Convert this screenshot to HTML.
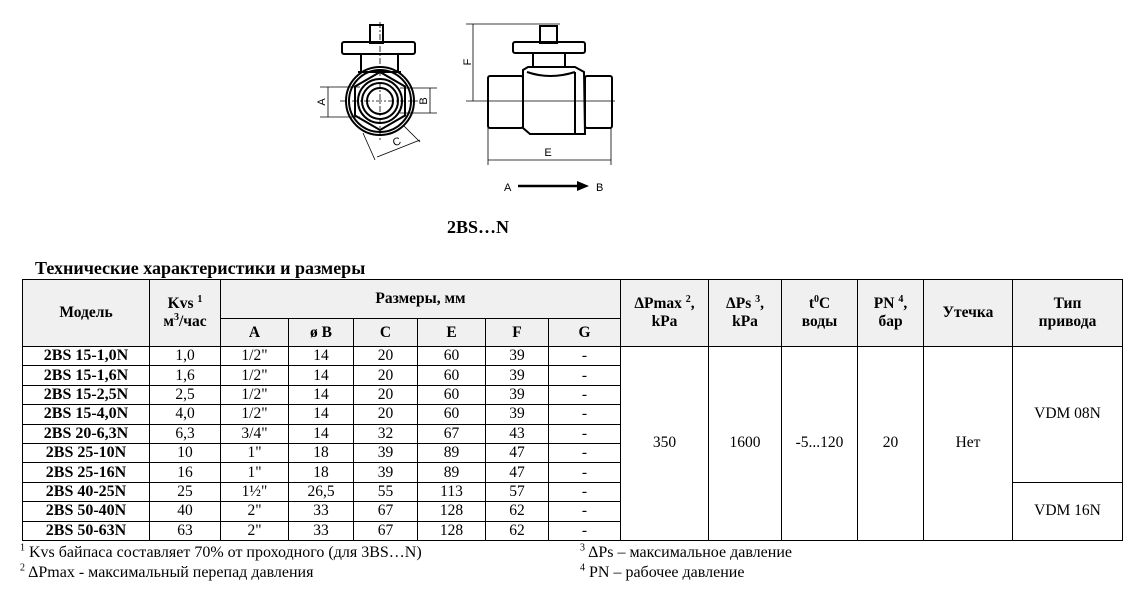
<!DOCTYPE html>
<html><head><meta charset="utf-8"><style>
html,body{margin:0;padding:0;background:#fff;width:1127px;height:590px;overflow:hidden;position:relative;font-family:"Liberation Serif",serif;color:#000}
.abs{position:absolute;white-space:nowrap}
table{position:absolute;left:22px;top:279px;border-collapse:collapse;table-layout:fixed;font-size:15.5px}
td{border:1.3px solid #000;text-align:center;padding:0;line-height:16px;overflow:hidden;white-space:nowrap}
th{border:1.3px solid #000;background:#f0f0f0;font-weight:bold;font-size:15.5px;padding:0;line-height:18px}
tr.r td{height:18.4px}
td.m{font-weight:bold;font-size:16px}
sup{font-size:10px;line-height:0}
</style></head><body>
<svg class="abs" style="left:0;top:0" width="1127" height="250" viewBox="0 0 1127 250">
<g fill="none" stroke="#000" stroke-width="2">
<rect x="370" y="25" width="13" height="18"/>
<rect x="342" y="42" width="73" height="12" rx="2"/>
<path d="M361 54 L361 72 M398 54 L398 72 M358 72 L401 72"/>
<circle cx="380" cy="101" r="34"/>
<circle cx="380" cy="101" r="31"/>
<polygon points="380,72 405,86.5 405,115.5 380,130 355,115.5 355,86.5"/>
<circle cx="380" cy="101" r="22"/>
<circle cx="380" cy="101" r="18"/>
<circle cx="380" cy="101" r="13"/>
</g>
<g stroke="#000" stroke-width="0.8" fill="none">
<path d="M320 87 L360 87 M320 117 L360 117 M328 87 L328 117"/>
<path d="M400 88 L437 88 M400 113 L437 113 M430 88 L430 113"/>
<path d="M363 133 L375 160 M404 126 L420 142 M377 157 L420 140"/>
<path d="M340 101 L420 101 M380 22 L380 140" stroke-dasharray="6,2,2,2"/>
</g>
<g fill="#000" font-family="Liberation Sans,sans-serif" font-size="11">
<text transform="translate(325,102) rotate(-90)" text-anchor="middle">A</text>
<text transform="translate(427,101) rotate(-90)" text-anchor="middle">B</text>
<text transform="translate(398,145) rotate(-22)" text-anchor="middle">C</text>
</g>
<g fill="none" stroke="#000" stroke-width="2">
<rect x="540" y="26" width="17" height="17"/>
<rect x="513" y="42" width="72" height="11" rx="2"/>
<path d="M533 53 L533 67 M565 53 L565 67"/>
<rect x="488" y="76" width="35" height="52" rx="2"/>
<rect x="585" y="76" width="27" height="52" rx="2"/>
<path d="M523 70 L528 67 L575 67 L584 72 L585 134 L530 134 L523 128 Z"/>
<path d="M527 72 Q550 80 575 72 M575 72 L575 134"/>
</g>
<g stroke="#000" stroke-width="0.8" fill="none">
<path d="M466 24 L560 24 M466 101 L615 101 M473 24 L473 101"/>
<path d="M488 128 L488 165 M611 128 L611 165 M488 160 L611 160"/>
</g>
<g fill="#000" font-family="Liberation Sans,sans-serif" font-size="11">
<text transform="translate(471,62) rotate(-90)" text-anchor="middle">F</text>
<text x="548" y="156" text-anchor="middle">E</text>
<text x="504" y="191">A</text>
<text x="596" y="191">B</text>
</g>
<path d="M518 186 L579 186" stroke="#000" stroke-width="2.5"/>
<polygon points="577,181 589,186 577,191" fill="#000"/>
<text x="478" y="233" text-anchor="middle" font-family="Liberation Serif,serif" font-weight="bold" font-size="18">2BS…N</text>
</svg>
<div class="abs" style="left:35px;top:258px;font-weight:bold;font-size:18px;line-height:20px">Технические характеристики и размеры</div>
<table>
<colgroup><col style="width:127px"><col style="width:71px"><col style="width:68px"><col style="width:65px"><col style="width:64px"><col style="width:68px"><col style="width:63px"><col style="width:72px"><col style="width:88px"><col style="width:73px"><col style="width:76px"><col style="width:66px"><col style="width:89px"><col style="width:110px"></colgroup>
<tr style="height:39px"><th rowspan="2">Модель</th><th rowspan="2">Kvs <sup>1</sup><br>м<sup>3</sup>/час</th><th colspan="6">Размеры, мм</th><th rowspan="2">ΔPmax <sup>2</sup>,<br>kPa</th><th rowspan="2">ΔPs <sup>3</sup>,<br>kPa</th><th rowspan="2">t<sup>0</sup>C<br>воды</th><th rowspan="2">PN <sup>4</sup>,<br>бар</th><th rowspan="2">Утечка</th><th rowspan="2">Тип<br>привода</th></tr>
<tr style="height:28px"><th>A</th><th>ø B</th><th>C</th><th>E</th><th>F</th><th>G</th></tr>
<tr class="r"><td class="m">2BS 15-1,0N</td><td>1,0</td><td>1/2"</td><td>14</td><td>20</td><td>60</td><td>39</td><td>-</td><td rowspan="10">350</td><td rowspan="10">1600</td><td rowspan="10">-5...120</td><td rowspan="10">20</td><td rowspan="10">Нет</td><td rowspan="7">VDM 08N</td></tr>
<tr class="r"><td class="m">2BS 15-1,6N</td><td>1,6</td><td>1/2"</td><td>14</td><td>20</td><td>60</td><td>39</td><td>-</td></tr>
<tr class="r"><td class="m">2BS 15-2,5N</td><td>2,5</td><td>1/2"</td><td>14</td><td>20</td><td>60</td><td>39</td><td>-</td></tr>
<tr class="r"><td class="m">2BS 15-4,0N</td><td>4,0</td><td>1/2"</td><td>14</td><td>20</td><td>60</td><td>39</td><td>-</td></tr>
<tr class="r"><td class="m">2BS 20-6,3N</td><td>6,3</td><td>3/4"</td><td>14</td><td>32</td><td>67</td><td>43</td><td>-</td></tr>
<tr class="r"><td class="m">2BS 25-10N</td><td>10</td><td>1"</td><td>18</td><td>39</td><td>89</td><td>47</td><td>-</td></tr>
<tr class="r"><td class="m">2BS 25-16N</td><td>16</td><td>1"</td><td>18</td><td>39</td><td>89</td><td>47</td><td>-</td></tr>
<tr class="r"><td class="m">2BS 40-25N</td><td>25</td><td>1½"</td><td>26,5</td><td>55</td><td>113</td><td>57</td><td>-</td><td rowspan="3">VDM 16N</td></tr>
<tr class="r"><td class="m">2BS 50-40N</td><td>40</td><td>2"</td><td>33</td><td>67</td><td>128</td><td>62</td><td>-</td></tr>
<tr class="r"><td class="m">2BS 50-63N</td><td>63</td><td>2"</td><td>33</td><td>67</td><td>128</td><td>62</td><td>-</td></tr>
</table>
<div class="abs" style="left:20px;top:544px;font-size:16px;line-height:18px"><sup>1</sup> Kvs байпаса составляет 70% от проходного (для 3BS…N)</div>
<div class="abs" style="left:20px;top:564px;font-size:16px;line-height:18px"><sup>2</sup> ΔPmax - максимальный перепад давления</div>
<div class="abs" style="left:580px;top:544px;font-size:16px;line-height:18px"><sup>3</sup> ΔPs – максимальное давление</div>
<div class="abs" style="left:580px;top:564px;font-size:16px;line-height:18px"><sup>4</sup> PN – рабочее давление</div>
</body></html>
